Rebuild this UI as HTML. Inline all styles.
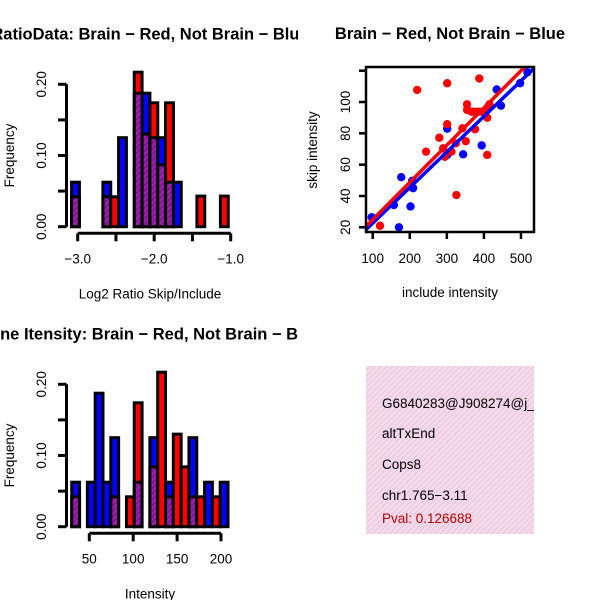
<!DOCTYPE html>
<html><head><meta charset="utf-8"><style>
body{margin:0;background:#fff}
svg{display:block;font-family:"Liberation Sans",sans-serif}
</style></head><body>
<svg width="600" height="600" viewBox="0 0 600 600">
<defs>
<pattern id="purp" width="4" height="4" patternUnits="userSpaceOnUse" patternTransform="rotate(45)">
<rect width="4" height="4" fill="#a020b0"/><rect width="2" height="4" fill="#7a1890"/>
</pattern>
<pattern id="pink" width="4" height="4" patternUnits="userSpaceOnUse" patternTransform="rotate(45)">
<rect width="4" height="4" fill="#f8d8f0"/><rect width="1.5" height="4" fill="#e6d0d8"/>
</pattern>
<clipPath id="leftClip"><rect x="0" y="0" width="298" height="600"/></clipPath>
<clipPath id="boxClip"><rect x="366" y="366" width="168" height="168"/></clipPath>
<clipPath id="scClip"><rect x="366" y="67" width="168" height="165"/></clipPath>
</defs>
<g id="h1"></g>
<g id="h2"></g>
<g id="sc"></g>
<g>
<rect x="366" y="366" width="168" height="168" fill="url(#pink)"/>
<g clip-path="url(#boxClip)" font-size="13.5">
<text x="382" y="408">G6840283@J908274@j_</text>
<text x="382" y="438">altTxEnd</text>
<text x="382" y="469">Cops8</text>
<text x="382" y="500">chr1.765−3.11</text>
<text x="382" y="523" fill="#b00000">Pval: 0.126688</text>
</g></g>
</svg>
<script>
// Histogram 1 (Log2 ratio)
const h1Blue=[0.0625,0,0,0,0.0625,0,0.125,0,0.1875,0.1875,0.125,0.125,0.0625,0.0625,0,0,0,0,0,0];
const h1Red=[0.042,0,0,0,0.042,0.042,0,0,0.217,0.13,0.174,0.087,0.174,0,0,0,0.043,0,0,0.043];
const h1XTicks=[-3.0,-2.5,-2.0,-1.5,-1.0];
const h1XLabels=["−3.0","","−2.0","","−1.0"];
// Histogram 2 (Intensity)
const h2Blue=[0.0625,0,0.0625,0.1875,0.0625,0.125,0,0,0.0625,0,0.125,0,0.0625,0,0,0.125,0,0.0625,0,0.0625];
const h2Red=[0.042,0,0,0,0,0.042,0,0.042,0.174,0,0.084,0.217,0.042,0.13,0.084,0.042,0.042,0,0.042,0];
const h2XTicks=[50,100,150,200];
const yTicks=[0,0.05,0.10,0.15,0.20];
const yLabels=["0.00","","0.10","","0.20"];
// Scatter
const redX=[119.7,220,301,387.6,243.8,279.7,290,301,294.5,312.5,324,325.9,342,351,354.5,354.5,367,376,385,394,403,412,376,409,409,415];
const redY=[21,107.7,112,115,68.3,77.2,70.4,85.8,65,68.3,73.6,40.6,83.2,75,98.5,95,93.8,93.8,93.8,93.8,93.8,97.2,82.6,90,66.2,98.5];
const blueX=[97.3,170.8,157.3,177,202,209,206.5,301,301,344,394,434.5,446,497.6,517.4];
const blueY=[26.4,20,34.2,52,33.3,45,49.7,83,66.2,66.6,72.3,108,97.7,112,119];
const redFit=[1.15,0.2377];
const blueFit=[-0.1,0.2273];
const scXTicks=[100,200,300,400,500];
const scYTicks=[20,40,60,80,100,120];
const scYLabels=["20","40","60","80","100",""];

const NS="http://www.w3.org/2000/svg";
function mk(parent,tag,attrs){const e=document.createElementNS(NS,tag);for(const k in attrs)e.setAttribute(k,attrs[k]);parent.appendChild(e);return e;}

function hist(gid,top,blue,red,x0,bw,xs,xTicks,xLabels,xTitle,title){
  const g=document.getElementById(gid);
  const ys=v=>top+142.4-v*712;
  const base=ys(0);
  const tg=mk(g,'g',{'clip-path':'url(#leftClip)'});
  const t=mk(tg,'text',{x:150,y:top-45,'font-size':16.5,'font-weight':'bold','text-anchor':'middle'});
  t.textContent=title;
  
  
  for(let i=0;i<blue.length;i++){
    const b=blue[i],r=red[i];
    const xa=xs(x0+i*bw),xb=xs(x0+(i+1)*bw);
    const mx=Math.max(b,r),mn=Math.min(b,r);
    if(mx>0){
      const bar=mk(g,'rect',{x:xa,y:ys(mx),width:xb-xa,height:base-ys(mx),fill:b>=r?'#0000ff':'#ff0000',stroke:'#000','stroke-width':3});
      
      
    }
    if(mn>0){
      const ov=mk(g,'rect',{x:xa,y:ys(mn),width:xb-xa,height:base-ys(mn),fill:'url(#purp)',stroke:'#000','stroke-width':3});
      
      
    }
  }
  const ya=mk(g,'line',{x1:66.5,x2:66.5,y1:ys(0),y2:ys(0.2),stroke:'#000','stroke-width':3});
  
  
  yTicks.forEach((v,i)=>{
    mk(g,'line',{x1:58,x2:66.5,y1:ys(v),y2:ys(v),stroke:'#000','stroke-width':3});
    if(yLabels[i]){const tx=mk(g,'text',{x:0,y:0,'font-size':13.5,'text-anchor':'middle',transform:`translate(46,${ys(v)}) rotate(-90)`});tx.textContent=yLabels[i];
      
      }
  });
  const yt=mk(g,'text',{x:0,y:0,'font-size':13.5,'text-anchor':'middle',transform:`translate(14,${ys(0.1)}) rotate(-90)`});
  yt.textContent='Frequency';
  
  
  const axY=top+149;
  const xa=mk(g,'line',{x1:xs(xTicks[0]),x2:xs(xTicks[xTicks.length-1]),y1:axY,y2:axY,stroke:'#000','stroke-width':3});
  
  
  xTicks.forEach((v,i)=>{
    mk(g,'line',{x1:xs(v),x2:xs(v),y1:axY,y2:axY+8,stroke:'#000','stroke-width':3});
    if(xLabels[i]){const tx=mk(g,'text',{x:xs(v),y:axY+30,'font-size':13.5,'text-anchor':'middle'});tx.textContent=xLabels[i];
      
      }
  });
  const xt=mk(g,'text',{x:150,y:top+214,'font-size':13.5,'text-anchor':'middle'});
  xt.textContent=xTitle;
  
  
}
hist('h1',84.3,h1Blue,h1Red,-3.08,0.1024,v=>77.7+(v+3)*76.5,h1XTicks,h1XLabels,'Log2 Ratio Skip/Include','RatioData: Brain − Red, Not Brain − Blue');
hist('h2',384.3,h2Blue,h2Red,30,8.9,v=>89.3+(v-50)*0.878,h2XTicks,h2XTicks.map(String),'Intensity','Gene Itensity: Brain − Red, Not Brain − Blue');

(function(){
  const g=document.getElementById('sc');
  const xs=v=>372.7+(v-100)*0.3707, ys=v=>227.3-(v-20)*1.566;
  const t=mk(g,'text',{x:450,y:39,'font-size':16.5,'font-weight':'bold','text-anchor':'middle'});
  t.textContent='Brain − Red, Not Brain − Blue';
  
  
  const pg=mk(g,'g',{'clip-path':'url(#scClip)'});
  blueX.forEach((x,i)=>{const c=mk(pg,'circle',{cx:xs(x),cy:ys(blueY[i]),r:4.2,fill:'#0000ff'});
    
    });
  redX.forEach((x,i)=>{const c=mk(pg,'circle',{cx:xs(x),cy:ys(redY[i]),r:4.2,fill:'#ff0000'});
    
    });
  const xa=60,xb=560;
  const bl=mk(pg,'line',{x1:xs(xa),y1:ys(blueFit[0]+blueFit[1]*xa),x2:xs(xb),y2:ys(blueFit[0]+blueFit[1]*xb),stroke:'#0000ff','stroke-width':3.5});
  
  
  const rl=mk(pg,'line',{x1:xs(xa),y1:ys(redFit[0]+redFit[1]*xa),x2:xs(xb),y2:ys(redFit[0]+redFit[1]*xb),stroke:'#ff0000','stroke-width':3.5});
  
  
  const box=mk(g,'rect',{x:366,y:67,width:168,height:165,fill:'none',stroke:'#000','stroke-width':2.5});
  
  
  scXTicks.forEach(v=>{
    mk(g,'line',{x1:xs(v),x2:xs(v),y1:232,y2:239,stroke:'#000','stroke-width':2.5});
    const tx=mk(g,'text',{x:xs(v),y:263,'font-size':13.5,'text-anchor':'middle'});tx.textContent=v;
    
    
  });
  scYTicks.forEach((v,i)=>{
    mk(g,'line',{x1:359,x2:366,y1:ys(v),y2:ys(v),stroke:'#000','stroke-width':2.5});
    if(scYLabels[i]){const tx=mk(g,'text',{x:0,y:0,'font-size':13.5,'text-anchor':'middle',transform:`translate(350,${ys(v)}) rotate(-90)`});tx.textContent=scYLabels[i];
      
      }
  });
  const xt=mk(g,'text',{x:450,y:297,'font-size':13.5,'text-anchor':'middle'});
  xt.textContent='include intensity';
  
  
  const yt=mk(g,'text',{x:0,y:0,'font-size':13.5,'text-anchor':'middle',transform:'translate(317,150) rotate(-90)'});
  yt.textContent='skip intensity';
  
  
})();
</script>
</body></html>
